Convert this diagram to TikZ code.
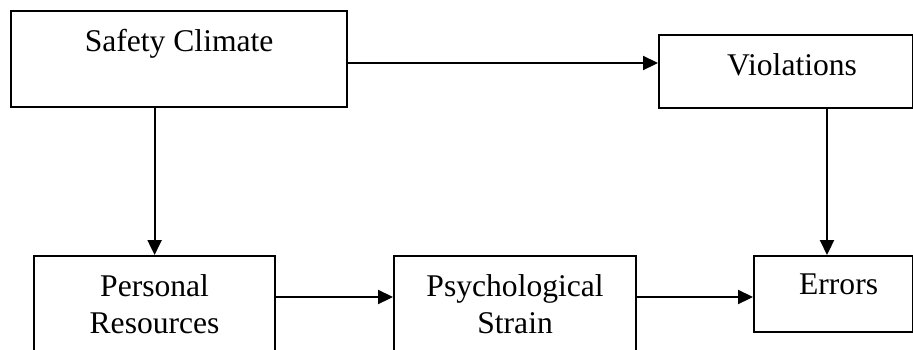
\documentclass[tikz,border=0pt]{standalone}
\usepackage{fontspec}
\setmainfont{Liberation Serif}
\usetikzlibrary{arrows.meta}
\begin{document}
\begin{tikzpicture}[x=1pt,y=-1pt,
  box/.style={draw=black, line width=2.2pt, inner sep=0pt, fill=white},
  lbl/.style={anchor=north, inner sep=0pt, align=center,
    font=\fontsize{31.6}{37}\selectfont},
  link/.style={line width=2.2pt, -{Triangle[length=15pt,width=14pt]}}]
\useasboundingbox (0,0) rectangle (913,349);
\clip (0,0) rectangle (913,349);
\fill[white] (0,0) rectangle (913,349);

% boxes, placed by their top-left corners
\node[box, minimum width=336pt, minimum height=96pt, anchor=north west] (sc) at (10,10) {};
\node[box, minimum width=254pt, minimum height=73pt, anchor=north west] (vi) at (658,34) {};
\node[box, minimum width=241pt, minimum height=110pt, anchor=north west] (pr) at (33,255) {};
\node[box, minimum width=242pt, minimum height=110pt, anchor=north west] (ps) at (393,255) {};
\node[box, minimum width=159pt, minimum height=76pt, anchor=north west] (er) at (753,255) {};

% labels, set near the top of each box
\node[lbl] (tsc) at ([yshift=-19pt]sc.north) {Safety Climate};
\node[lbl] (tvi) at ([xshift=6pt,yshift=-19pt]vi.north) {Violations};
\node[lbl] (tpr) at ([yshift=-19pt]pr.north) {Personal\\Resources};
\node[lbl] (tps) at ([yshift=-19pt]ps.north) {Psychological\\Strain};
\node[lbl] (ter) at ([xshift=5pt,yshift=-19pt]er.north) {Errors};

% connectors
\draw[link] (sc.east |- 0,63) -- (vi.west |- 0,63);
\draw[link] (pr.north |- sc.south) -- (pr.north);
\draw[link] (vi.south -| 827,0) -- (er.north -| 827,0);
\draw[link] (pr.east |- 0,297) -- (ps.west |- 0,297);
\draw[link] (ps.east |- 0,297) -- (er.west |- 0,297);
\end{tikzpicture}
\end{document}
